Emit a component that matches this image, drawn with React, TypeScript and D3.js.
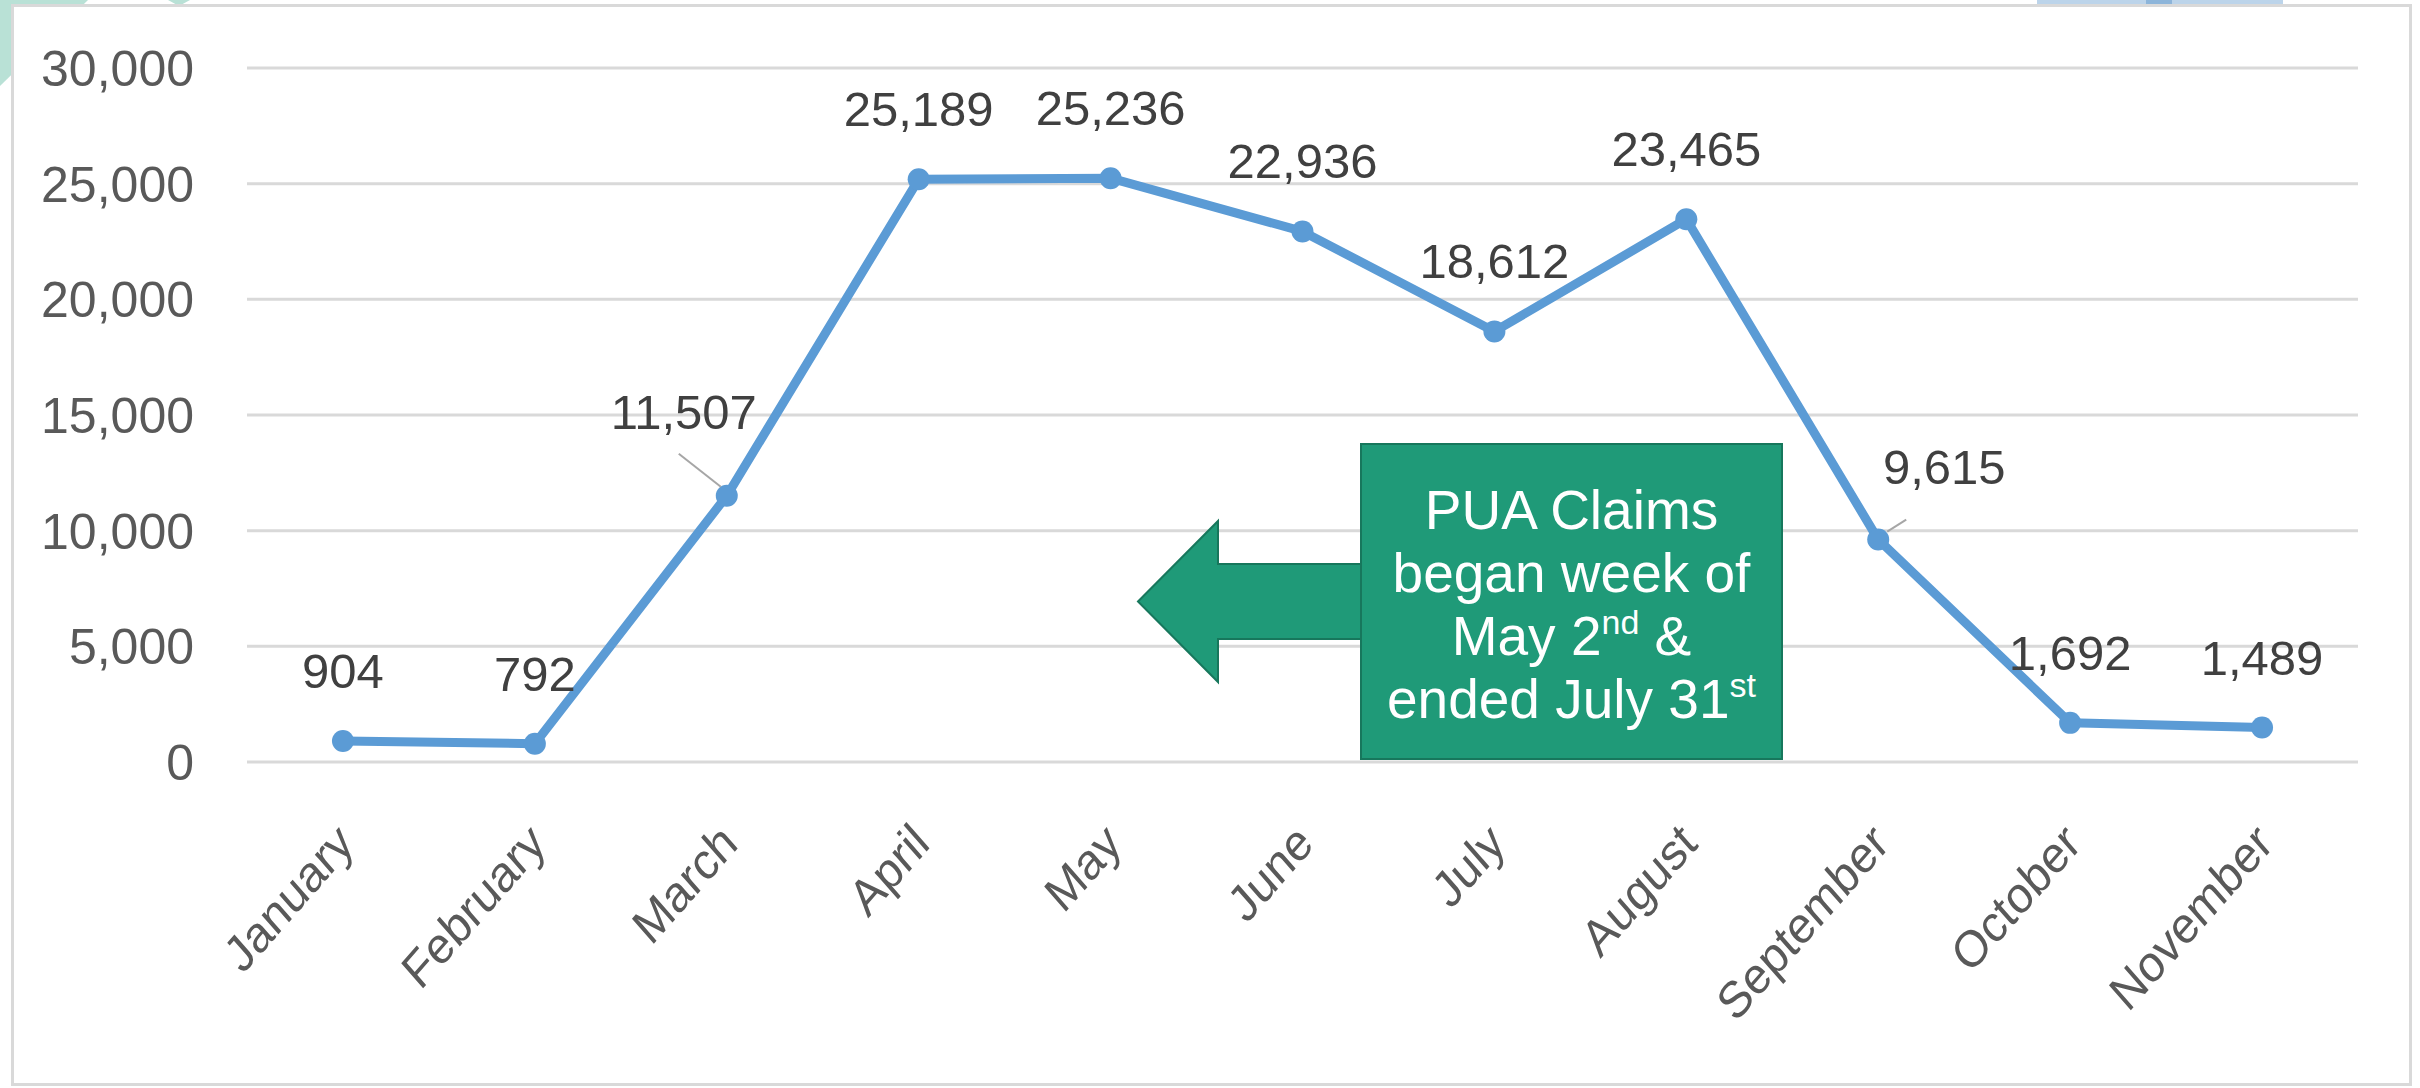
import React from 'react';
import * as d3 from 'd3';

const months = ['January', 'February', 'March', 'April', 'May', 'June', 'July', 'August', 'September', 'October', 'November'];
const claims = [904, 792, 11507, 25189, 25236, 22936, 18612, 23465, 9615, 1692, 1489];
const yTicks = [0, 5000, 10000, 15000, 20000, 25000, 30000];
const calloutLines: { text: string; sup?: string; tail?: string }[] = [
  { text: 'PUA Claims' },
  { text: 'began week of' },
  { text: 'May 2', sup: 'nd', tail: ' &' },
  { text: 'ended July 31', sup: 'st' },
];

// layout-only tweaks for the data labels (offset from the point)
const labelOffsets: Record<string, { dx: number; dy: number; leader?: [number, number, number, number] }> = {
  March: { dx: -43, dy: -67, leader: [-48, -42, -6, -9] },
  September: { dx: 66, dy: -56, leader: [28, -20, 9, -8] },
};

const W = 2420;
const H = 1088;
const L = 247, R = 2358, T = 68, B = 762;
const FONT = "'Liberation Sans', Arial, sans-serif";

export default function App() {
  const x = d3.scalePoint<string>().domain(months).range([L, R]).padding(0.5);
  const y = d3.scaleLinear().domain([0, 30000]).range([B, T]);
  const fmt = d3.format(',');
  const pts = months.map((m, i) => [x(m) as number, y(claims[i])] as [number, number]);
  const linePath = d3.line()(pts) || '';

  // callout geometry
  const bx0 = 1361, bx1 = 1782, by0 = 444, by1 = 759;
  const tipX = 1138, headX = 1218, headT = 521, headB = 682, shT = 564, shB = 639;
  const arrow = [
    [tipX, (headT + headB) / 2], [headX, headT], [headX, shT], [bx0 + 2, shT],
    [bx0 + 2, shB], [headX, shB], [headX, headB],
  ];
  const cx = (bx0 + bx1) / 2;

  return (
    <svg width={W} height={H} style={{ position: 'absolute', left: 0, top: 0, background: '#fff' }}>
      {/* slide decorations peeking outside the chart frame */}
      <polygon points="0,0 88,0 0,86" fill="#b9e1d6" />
      <polygon points="168,0 190,0 179,6" fill="#b9e1d6" />
      <rect x={2037} y={0} width={246} height={6} fill="#bcd4ea" />
      <rect x={2146} y={0} width={26} height={6} fill="#8db5da" />
      {/* chart frame */}
      <rect x={12.5} y={5.5} width={2398} height={1079} fill="#fff" stroke="#d9d9d9" strokeWidth={3} />

      {/* gridlines */}
      {yTicks.map((t) => (
        <line key={t} x1={L} x2={R} y1={y(t)} y2={y(t)} stroke="#d9d9d9" strokeWidth={3} />
      ))}
      {/* y labels */}
      {yTicks.map((t) => (
        <text key={'l' + t} x={194} y={y(t)} dy="0.36em" textAnchor="end" fontFamily={FONT} fontSize={50} fill="#595959">
          {fmt(t)}
        </text>
      ))}
      {/* x labels */}
      {months.map((m) => (
        <text
          key={m}
          transform={`translate(${(x(m) as number) + 13},${846}) scale(1,1.14) rotate(-45)`}
          textAnchor="end"
          fontFamily={FONT}
          fontSize={45}
          fill="#595959"
        >
          {m}
        </text>
      ))}

      {/* line and markers */}
      <path d={linePath} fill="none" stroke="#5b9bd5" strokeWidth={9} strokeLinejoin="round" />
      {pts.map(([px, py], i) => (
        <circle key={i} cx={px} cy={py} r={11} fill="#5b9bd5" />
      ))}

      {/* data labels */}
      {months.map((m, i) => {
        const [px, py] = pts[i];
        const o = labelOffsets[m] || { dx: 0, dy: -53 };
        return (
          <g key={'d' + m}>
            {o.leader && (
              <line x1={px + o.leader[0]} y1={py + o.leader[1]} x2={px + o.leader[2]} y2={py + o.leader[3]} stroke="#a6a6a6" strokeWidth={2} />
            )}
            <text x={px + o.dx} y={py + o.dy} textAnchor="middle" fontFamily={FONT} fontSize={49} fill="#404040">
              {fmt(claims[i])}
            </text>
          </g>
        );
      })}

      {/* callout arrow + box */}
      <polygon points={arrow.map((p) => p.join(',')).join(' ')} fill="#1f9a78" stroke="#17775c" strokeWidth={2} />
      <rect x={bx0} y={by0} width={bx1 - bx0} height={by1 - by0} fill="#1f9a78" stroke="#17775c" strokeWidth={2} />
      {calloutLines.map((ln, i) => (
        <text key={i} x={cx} y={529 + i * 63} textAnchor="middle" fontFamily={FONT} fontSize={55} fill="#fff">
          {ln.text}
          {ln.sup && (
            <tspan fontSize={34} dy={-21}>
              {ln.sup}
            </tspan>
          )}
          {ln.tail && <tspan dy={21}>{ln.tail}</tspan>}
        </text>
      ))}
    </svg>
  );
}
